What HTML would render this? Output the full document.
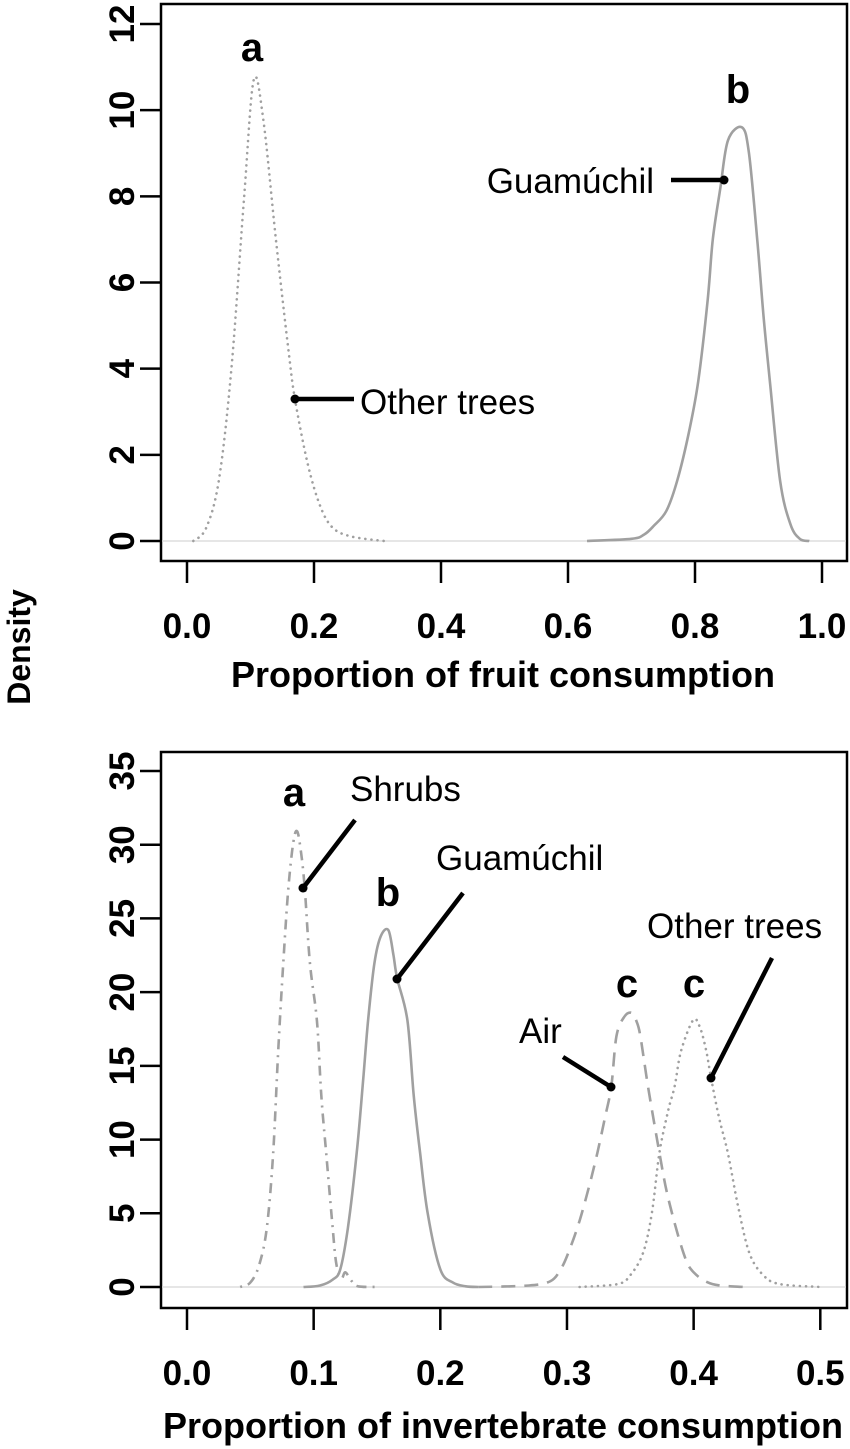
<!DOCTYPE html>
<html><head><meta charset="utf-8"><style>
html,body{margin:0;padding:0;background:#fff}
svg{display:block}
text{font-family:"Liberation Sans",Arial,sans-serif;fill:#000}
.b{font-weight:bold}
</style></head><body>
<svg id="fig" width="850" height="1449" viewBox="0 0 850 1449">
<text class="b" font-size="32" transform="translate(30,647) rotate(-90)" text-anchor="middle">Density</text>
<g id="topPanel"></g>
<g id="botPanel"></g>
</svg>
<script>
// ---- Panel 1 data: proportion of fruit consumption ----
const fruitXTicks = [0, 0.2, 0.4, 0.6, 0.8, 1.0];
const fruitXLabels = ["0.0", "0.2", "0.4", "0.6", "0.8", "1.0"];
const fruitYTicks = [0, 2, 4, 6, 8, 10, 12];
const fruitOtherX = [0.01,0.03,0.05,0.07,0.09,0.105,0.12,0.14,0.16,0.17,0.19,0.21,0.23,0.26,0.31];
const fruitOtherY = [0,0.3,1.4,4.0,8.0,10.7,9.8,7.0,4.4,3.3,1.8,0.8,0.3,0.1,0];
const fruitGuamX = [0.63,0.70,0.72,0.735,0.755,0.772,0.79,0.805,0.82,0.828,0.84,0.852,0.874,0.885,0.898,0.908,0.918,0.934,0.95,0.965,0.98];
const fruitGuamY = [0,0.05,0.15,0.35,0.7,1.4,2.5,3.7,5.6,7.0,8.2,9.3,9.6,9.0,7.0,5.2,3.7,1.4,0.4,0.05,0];

// ---- Panel 2 data: proportion of invertebrate consumption ----
const invXTicks = [0, 0.1, 0.2, 0.3, 0.4, 0.5];
const invXLabels = ["0.0", "0.1", "0.2", "0.3", "0.4", "0.5"];
const invYTicks = [0, 5, 10, 15, 20, 25, 30, 35];
const shrubX = [0.042,0.05,0.057,0.063,0.068,0.072,0.076,0.08,0.084,0.087,0.09,0.093,0.097,0.1026,0.106,0.11,0.115,0.118,0.122,0.125,0.13,0.135,0.15];
const shrubY = [0,0.3,1.5,4,9,16,22,27,30.2,30.9,29.5,27,22,18,13,9,4,1.5,0.6,1.0,0.4,0.05,0];
const invGuamX = [0.092,0.105,0.115,0.121,0.127,0.134,0.139,0.143,0.148,0.153,0.159,0.163,0.166,0.174,0.179,0.184,0.19,0.2,0.21,0.22,0.23];
const invGuamY = [0,0.1,0.5,1.2,4,9.1,14,18.1,22,23.8,24.2,22.5,20.9,18.1,13,9.1,5,1.2,0.3,0.05,0];
const airX = [0.23,0.27,0.287,0.295,0.301,0.31,0.318,0.324,0.33,0.335,0.339,0.345,0.351,0.355,0.358,0.364,0.373,0.38,0.392,0.4,0.415,0.44];
const airY = [0,0.1,0.4,1.2,2.3,4.5,7,9.1,11.5,13.6,17,18.3,18.6,18,17,13.6,9.1,6,2.3,1,0.2,0];
const invOtherX = [0.31,0.34,0.35,0.36,0.367,0.373,0.38,0.385,0.39,0.3996,0.405,0.41,0.4137,0.42,0.427,0.435,0.444,0.455,0.468,0.5];
const invOtherY = [0,0.2,0.8,2.3,5,9.1,12,13.6,16,18.1,17.6,16,14.2,11.5,9.1,5.5,2.3,0.8,0.2,0];

const NS = "http://www.w3.org/2000/svg";
function mk(parent, tag, attrs, txt){
  const e = document.createElementNS(NS, tag);
  for (const k in attrs) e.setAttribute(k, attrs[k]);
  if (txt !== undefined) e.textContent = txt;
  parent.appendChild(e);
  return e;
}
function smoothPath(pts){
  let d = "M" + pts[0][0].toFixed(1) + "," + pts[0][1].toFixed(1);
  for (let i = 0; i < pts.length - 1; i++){
    const p0 = pts[Math.max(i-1,0)], p1 = pts[i], p2 = pts[i+1], p3 = pts[Math.min(i+2, pts.length-1)];
    const c1x = p1[0] + (p2[0]-p0[0])/6, c1y = p1[1] + (p2[1]-p0[1])/6;
    const c2x = p2[0] - (p3[0]-p1[0])/6, c2y = p2[1] - (p3[1]-p1[1])/6;
    d += " C" + c1x.toFixed(1) + "," + c1y.toFixed(1) + " " + c2x.toFixed(1) + "," + c2y.toFixed(1) + " " + p2[0].toFixed(1) + "," + p2[1].toFixed(1);
  }
  return d;
}

function panel(g, cfg){
  const sx = v => cfg.x0 + (v - cfg.xmin) / (cfg.xmax - cfg.xmin) * (cfg.x1 - cfg.x0);
  const sy = v => cfg.y0 - (v - cfg.ymin) / (cfg.ymax - cfg.ymin) * (cfg.y0 - cfg.y1);
  const fr = mk(g, "rect", {x:161, y:cfg.boxTop, width:686, height:cfg.boxBot - cfg.boxTop, fill:"none", stroke:"#000", "stroke-width":2.5});
  
  
  const zl = mk(g, "line", {x1:162, x2:846, y1:sy(0), y2:sy(0), stroke:"#d8d8d8", "stroke-width":1.2});
  
  
  cfg.xt.forEach((t, i) => {
    const tk = mk(g, "line", {x1:sx(t), x2:sx(t), y1:cfg.boxBot, y2:cfg.boxBot + 22, stroke:"#000", "stroke-width":2.5});
    
    
    const lb = mk(g, "text", {x:sx(t), y:cfg.boxBot + cfg.lblOff, "text-anchor":"middle", "font-size":35, "class":"b"}, cfg.xl[i]);
    
    
  });
  cfg.yt.forEach(t => {
    const tk = mk(g, "line", {x1:140, x2:161, y1:sy(t), y2:sy(t), stroke:"#000", "stroke-width":2.5});
    
    
    const lb = mk(g, "text", {transform:"translate(134," + sy(t) + ") rotate(-90)", "text-anchor":"middle", "font-size":35, "class":"b"}, String(t));
    
    
  });
  const xt = mk(g, "text", {x:503, y:cfg.titleY, "text-anchor":"middle", "font-size":36, "class":"b"}, cfg.title);
  
  
  cfg.series.forEach(s => {
    const pts = s.x.map((v, i) => [sx(v), sy(s.y[i])]);
    const p = mk(g, "path", {d:smoothPath(pts), fill:"none", stroke:"#a0a0a0", "stroke-width":2.6, "stroke-linecap":s.cap || "butt", "stroke-linejoin":"round", "stroke-dasharray":s.dash || "none"});
    
    
  });
}

const topG = document.getElementById("topPanel");
panel(topG, {x0:187, x1:822, xmin:0, xmax:1, y0:541, y1:24, ymin:0, ymax:12,
  boxTop:4, boxBot:561, lblOff:77, titleY:687, title:"Proportion of fruit consumption",
  xt:fruitXTicks, xl:fruitXLabels, yt:fruitYTicks,
  series:[
    {name:"other-trees-fruit-curve", x:fruitOtherX, y:fruitOtherY, dash:"0.1 6", cap:"round"},
    {name:"guamuchil-fruit-curve", x:fruitGuamX, y:fruitGuamY}
  ]});

const botG = document.getElementById("botPanel");
panel(botG, {x0:187, x1:820.3, xmin:0, xmax:0.5, y0:1287, y1:771, ymin:0, ymax:35,
  boxTop:752, boxBot:1308, lblOff:77, titleY:1438, title:"Proportion of invertebrate consumption",
  xt:invXTicks, xl:invXLabels, yt:invYTicks,
  series:[
    {name:"shrubs-curve", x:shrubX, y:shrubY, dash:"2 6 10 6"},
    {name:"guamuchil-invertebrate-curve", x:invGuamX, y:invGuamY},
    {name:"air-curve", x:airX, y:airY, dash:"14 9"},
    {name:"other-trees-invertebrate-curve", x:invOtherX, y:invOtherY, dash:"0.1 6", cap:"round"}
  ]});

function ann(g, name, x1, y1, x2, y2){
  const l = mk(g, "line", {x1:x1, y1:y1, x2:x2, y2:y2, stroke:"#000", "stroke-width":4.5});
  
  
  const c = mk(g, "circle", {cx:x1, cy:y1, r:4.5, fill:"#000"});
  
  
}
function lab(g, name, x, y, t, anchor, bold, size){
  const attrs = {x:x, y:y, "text-anchor":anchor, "font-size":size};
  if (bold) attrs["class"] = "b";
  const e = mk(g, "text", attrs, t);
  
  
}
ann(topG, "other-trees-fruit", 295, 399, 354, 399);
ann(topG, "guamuchil-fruit", 724, 180, 671, 180);
lab(topG, "label-other-trees-fruit", 360, 414, "Other trees", "start", false, 35);
lab(topG, "label-guamuchil-fruit", 654, 193, "Guamúchil", "end", false, 35);
lab(topG, "group-letter-a", 252, 61, "a", "middle", true, 40);
lab(topG, "group-letter-b", 738, 103, "b", "middle", true, 40);

ann(botG, "shrubs", 303, 888, 355, 820);
ann(botG, "guamuchil-invertebrate", 397, 979, 463, 893);
ann(botG, "air", 611, 1087, 563, 1057);
ann(botG, "other-trees-invertebrate", 711, 1078, 772, 958);
lab(botG, "label-shrubs", 350, 801, "Shrubs", "start", false, 35);
lab(botG, "label-guamuchil-invertebrate", 436, 870, "Guamúchil", "start", false, 35);
lab(botG, "label-air", 519, 1043, "Air", "start", false, 35);
lab(botG, "label-other-trees-invertebrate", 647, 938, "Other trees", "start", false, 35);
lab(botG, "group-letter-a-invertebrate", 294, 806, "a", "middle", true, 40);
lab(botG, "group-letter-b-invertebrate", 388, 906, "b", "middle", true, 40);
lab(botG, "group-letter-c-air", 627, 997, "c", "middle", true, 40);
lab(botG, "group-letter-c-other-trees", 694, 997, "c", "middle", true, 40);
</script>
</body></html>
